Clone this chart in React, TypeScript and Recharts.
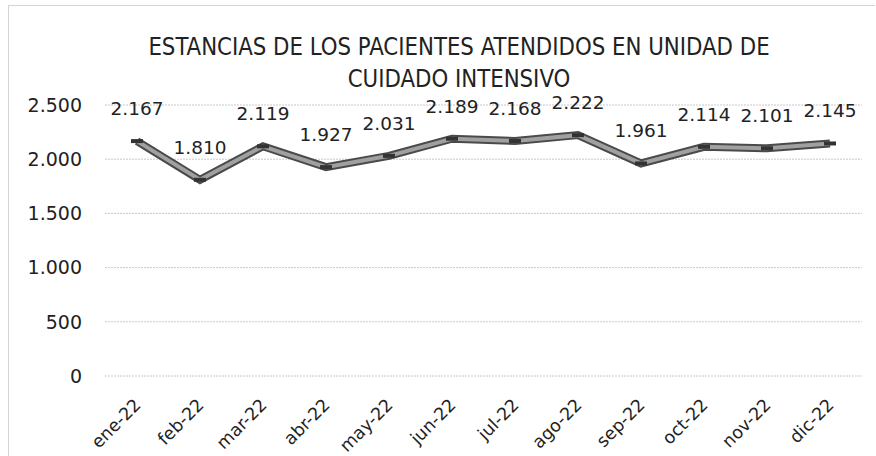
import React from "react";
import { LineChart, Line, XAxis, YAxis, CartesianGrid, LabelList } from "recharts";

const months = ["ene-22", "feb-22", "mar-22", "abr-22", "may-22", "jun-22", "jul-22", "ago-22", "sep-22", "oct-22", "nov-22", "dic-22"];
const stays = [2167, 1810, 2119, 1927, 2031, 2189, 2168, 2222, 1961, 2114, 2101, 2145];
const yTicks = [0, 500, 1000, 1500, 2000, 2500];
const titleLines = ["ESTANCIAS DE LOS PACIENTES ATENDIDOS EN UNIDAD DE", "CUIDADO INTENSIVO"];

const data = months.map((m, i) => ({ m, v: stays[i] }));

const FONT = "'DejaVu Sans', sans-serif";
const TITLE_FONT = "'Liberation Sans Narrow', 'DejaVu Sans Condensed', sans-serif";

const fmt = (n: number) => n.toLocaleString("de-DE");

const XTick = (props: any) => {
  const { x, y, payload } = props;
  return (
    <text
      x={0}
      y={0}
      transform={`translate(${x + 5},${y + 30}) rotate(-45)`}
      textAnchor="end"
      fontSize={17.5}
      fontFamily={FONT}
      fill="#222"
    >
      {payload.value}
    </text>
  );
};

const Dash = (props: any) => {
  const { cx, cy } = props;
  if (cx == null || cy == null) return null;
  return <rect x={cx - 6} y={cy - 2} width={12} height={4} fill="#333" />;
};

export default function App() {
  return (
    <div style={{ position: "absolute", left: 0, top: 0, width: 876, height: 456, background: "#fff", fontFamily: FONT }}>
      <div style={{ position: "absolute", left: 8, top: 5, width: 866, height: 450, borderLeft: "1px solid #d4d4d4", borderTop: "1px solid #d4d4d4" }} />
      <div
        style={{
          position: "absolute",
          left: 0,
          top: 31,
          width: 918,
          textAlign: "center",
          fontSize: 23.7,
          lineHeight: "29.5px",
          color: "#222",
          fontFamily: TITLE_FONT,
          transform: "scaleY(1.08)",
          transformOrigin: "50% 0",
        }}
      >
        {titleLines.map((t) => (
          <div key={t}>{t}</div>
        ))}
      </div>
      <div style={{ position: "absolute", left: 0, top: 0 }}>
        <LineChart width={876} height={456} data={data} margin={{ top: 105, right: 14, bottom: 0, left: 0 }}>
          <CartesianGrid horizontal vertical={false} stroke="#c8c8c8" strokeDasharray="2 1" />
          <XAxis
            dataKey="m"
            axisLine={false}
            tickLine={false}
            tickSize={0}
            tickMargin={0}
            height={80}
            tick={<XTick />}
            interval={0}
            padding={{ left: 32, right: 32 }}
          />
          <YAxis
            width={105}
            domain={[0, 2500]}
            ticks={yTicks}
            axisLine={false}
            tickLine={false}
            tickSize={0}
            tickMargin={23}
            tickFormatter={fmt}
            tick={{ fontSize: 19, fill: "#222", fontFamily: FONT }}
          />
          <Line dataKey="v" stroke="#4a4a4a" strokeWidth={8} dot={false} isAnimationActive={false} />
          <Line dataKey="v" stroke="#a0a0a0" strokeWidth={4} dot={<Dash />} isAnimationActive={false}>
            <LabelList
              dataKey="v"
              position="top"
              offset={26}
              formatter={(v: any) => fmt(Number(v))}
              style={{ fontSize: 18.5, fill: "#222", fontFamily: FONT }}
            />
          </Line>
        </LineChart>
      </div>
    </div>
  );
}
